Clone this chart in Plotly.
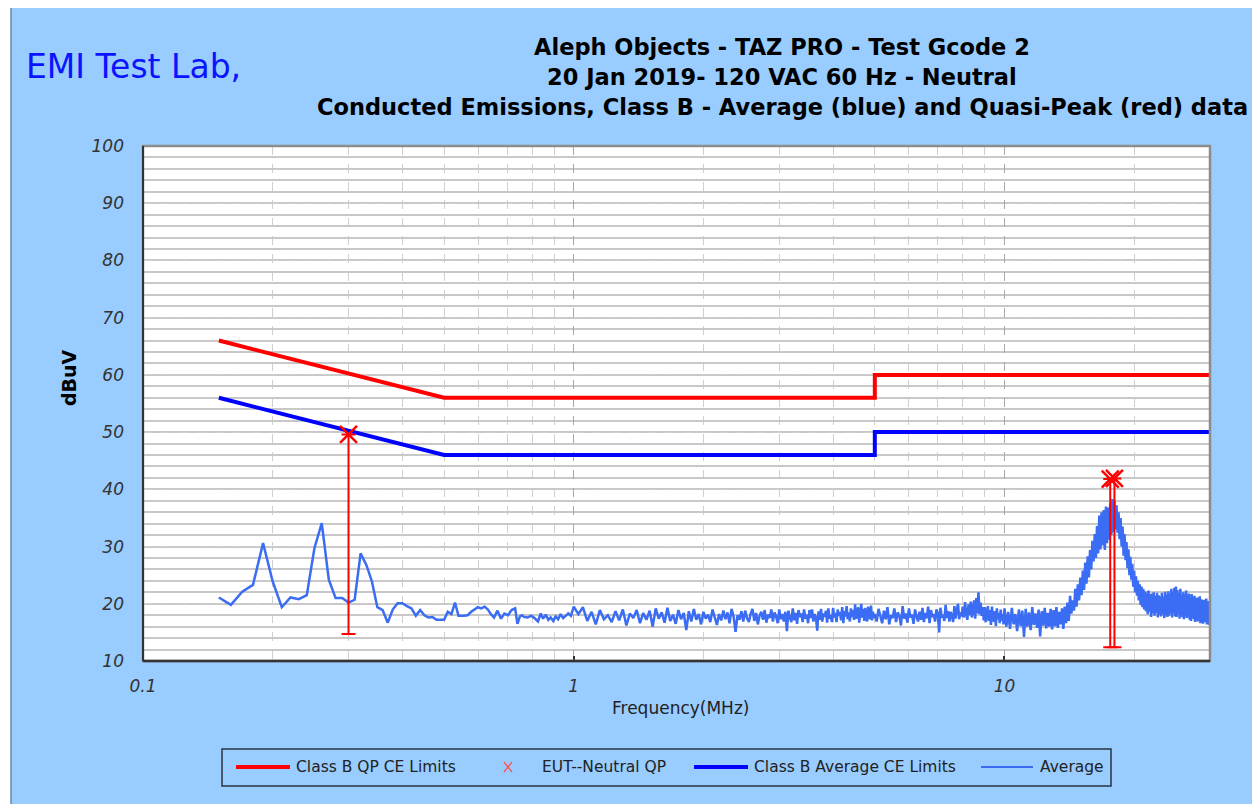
import plotly.graph_objects as go

# ---------------- data ----------------
qp_limit_f = [0.15, 0.5, 5.0, 5.0, 30.0]
qp_limit_v = [66.0, 56.0, 56.0, 60.0, 60.0]
avg_limit_f = [0.15, 0.5, 5.0, 5.0, 30.0]
avg_limit_v = [56.0, 46.0, 46.0, 50.0, 50.0]

qp_f = [0.30, 17.6, 18.0]
qp_v = [49.6, 41.8, 41.9]
qp_low = [14.7, 12.4, 12.4]

avg_f_a = [0.15, 0.16, 0.17, 0.18, 0.19, 0.20, 0.21, 0.22, 0.23, 0.24,
           0.25, 0.26, 0.27, 0.28, 0.29, 0.30, 0.31, 0.32, 0.33, 0.34,
           0.35, 0.36, 0.37, 0.38, 0.39, 0.40, 0.41, 0.42, 0.43, 0.44,
           0.45, 0.46, 0.47, 0.48, 0.49, 0.50, 0.51, 0.52, 0.53, 0.54]
avg_v_a = [21.1, 19.8, 22.1, 23.3, 30.6, 23.9, 19.4, 21.1, 20.8, 21.5,
           29.7, 34.1, 24.2, 21.0, 21.0, 20.2, 20.7, 28.8, 26.8, 23.9,
           19.4, 18.9, 16.7, 19.0, 20.1, 20.1, 19.6, 19.2, 17.9, 18.9,
           18.0, 17.6, 17.7, 17.2, 17.2, 17.2, 18.6, 18.2, 20.2, 17.9]

avg_f_b = [0.556, 0.567, 0.578, 0.588, 0.599, 0.610, 0.621, 0.632, 0.642, 0.653,
           0.665, 0.678, 0.690, 0.704, 0.717, 0.731, 0.740, 0.750, 0.758, 0.767,
           0.781, 0.796, 0.811, 0.826, 0.838, 0.849, 0.861, 0.873, 0.884, 0.896,
           0.908, 0.920, 0.932, 0.945, 0.958, 0.971, 0.985]
avg_v_b = [17.9, 18.0, 18.6, 19.0, 19.4, 19.2, 19.5, 19.0, 18.2, 17.6,
           18.8, 17.4, 18.3, 18.0, 18.9, 19.2, 16.5, 17.8, 18.0, 17.7,
           17.6, 17.9, 17.5, 16.9, 18.3, 17.4, 18.1, 17.2, 17.6, 17.0,
           17.8, 17.3, 18.2, 17.5, 17.9, 18.3, 17.9]

avg_f_c = [1.000, 1.025, 1.050, 1.075, 1.100, 1.125, 1.150, 1.175, 1.200, 1.225,
           1.250, 1.275, 1.300, 1.325, 1.350, 1.375, 1.400, 1.425, 1.450, 1.475,
           1.500, 1.525, 1.550, 1.575, 1.600, 1.625, 1.650, 1.675, 1.700, 1.725,
           1.750, 1.775, 1.800, 1.825, 1.850, 1.875, 1.900, 1.925, 1.950, 1.975]
avg_v_c = [19.5, 18.2, 19.4, 17.0, 18.6, 16.4, 18.9, 17.3, 18.0, 16.8,
           18.7, 17.1, 19.0, 16.2, 18.3, 17.5, 18.9, 16.6, 18.4, 17.2,
           18.8, 16.0, 19.2, 17.4, 18.5, 16.7, 19.3, 17.0, 18.1, 16.5,
           18.9, 17.3, 18.4, 15.4, 18.7, 16.9, 19.1, 17.2, 18.2, 16.4]

avg_f_d = [2.000, 2.025, 2.050, 2.075, 2.100, 2.125, 2.150, 2.175, 2.200, 2.225,
           2.250, 2.275, 2.300, 2.325, 2.350, 2.375, 2.400, 2.425, 2.450, 2.475,
           2.500, 2.525, 2.550, 2.575, 2.600, 2.625, 2.650, 2.675, 2.700, 2.725,
           2.750, 2.775, 2.800, 2.825, 2.850, 2.875, 2.900, 2.925, 2.950, 2.975,
           3.000, 3.025, 3.050, 3.075, 3.100, 3.125, 3.150, 3.175, 3.200, 3.225,
           3.250, 3.275, 3.300, 3.325, 3.350, 3.375, 3.400, 3.425, 3.450, 3.475,
           3.500, 3.525, 3.550, 3.575, 3.600, 3.625, 3.650, 3.675, 3.700, 3.725,
           3.750, 3.775, 3.800, 3.825, 3.850, 3.875, 3.900, 3.925, 3.950, 3.975,
           4.000, 4.025, 4.050, 4.075, 4.100, 4.125, 4.150, 4.175, 4.200, 4.225,
           4.250, 4.275, 4.300, 4.325, 4.350, 4.375, 4.400, 4.425, 4.450, 4.475,
           4.500, 4.525, 4.550, 4.575, 4.600, 4.625, 4.650, 4.675, 4.700, 4.725,
           4.750, 4.775, 4.800, 4.825, 4.850, 4.875, 4.900, 4.925, 4.950, 4.975]
avg_v_d = [18.6, 17.4, 18.1, 16.8, 19.0, 17.6, 16.3, 18.2, 17.1, 18.8,
           17.3, 18.5, 16.6, 19.1, 17.8, 15.1, 18.0, 17.2, 18.7, 16.9,
           18.8, 17.5, 16.8, 18.3, 19.1, 17.0, 18.4, 16.4, 17.9, 18.6,
           17.2, 18.9, 16.7, 18.1, 17.5, 19.0, 16.9, 18.5, 17.8, 16.6,
           19.0, 17.3, 18.2, 16.9, 18.6, 15.2, 18.8, 17.6, 16.8, 19.2,
           17.1, 18.4, 16.5, 18.9, 17.7, 18.3, 16.8, 19.0, 17.4, 18.1,
           16.6, 18.9, 17.5, 19.0, 16.9, 18.2, 17.6, 15.3, 18.7, 17.2,
           19.1, 16.9, 18.3, 17.7, 18.8, 16.7, 19.2, 17.4, 18.0, 16.8,
           19.3, 17.6, 18.4, 16.8, 19.0, 17.9, 18.6, 17.1, 19.4, 16.6,
           18.7, 17.8, 19.6, 17.3, 18.5, 16.9, 19.2, 17.7, 18.9, 17.2,
           19.9, 17.4, 18.6, 19.4, 16.7, 18.8, 20.0, 17.6, 19.1, 17.0,
           19.3, 17.8, 16.9, 19.5, 18.2, 17.3, 19.7, 17.1, 18.6, 17.5]

avg_f_e = [5.00, 5.05, 5.10, 5.15, 5.20, 5.25, 5.30, 5.35, 5.40, 5.45,
           5.50, 5.55, 5.60, 5.65, 5.70, 5.75, 5.80, 5.85, 5.90, 5.95,
           6.00, 6.05, 6.10, 6.15, 6.20, 6.25, 6.30, 6.35, 6.40, 6.45,
           6.50, 6.55, 6.60, 6.65, 6.70, 6.75, 6.80, 6.85, 6.90, 6.95,
           7.00, 7.05, 7.10, 7.15, 7.20, 7.25, 7.30, 7.35, 7.40, 7.45,
           7.50, 7.55, 7.60, 7.65, 7.70, 7.75, 7.80, 7.85, 7.90, 7.95,
           8.00, 8.05, 8.10, 8.15, 8.20, 8.25, 8.30, 8.35, 8.40, 8.45,
           8.50, 8.55, 8.60, 8.65, 8.70, 8.75, 8.80, 8.85, 8.90, 8.95,
           9.00, 9.05, 9.10, 9.15, 9.20, 9.25, 9.30, 9.35, 9.40, 9.45,
           9.50, 9.55, 9.60, 9.65, 9.70, 9.75, 9.80, 9.85, 9.90, 9.95]
avg_v_e = [18.2, 16.9, 19.1, 17.6, 16.6, 18.8, 17.3, 19.4, 16.4, 18.0,
           17.5, 19.2, 16.8, 18.5, 17.9, 16.2, 19.6, 17.4, 18.3, 16.7,
           19.2, 17.6, 18.1, 16.5, 19.0, 17.8, 16.9, 18.6, 17.2, 19.3,
           16.8, 18.4, 17.5, 19.5, 16.6, 18.9, 17.7, 18.2, 16.9, 19.0,
           18.4, 15.0, 19.3, 17.6, 18.1, 17.0, 19.8, 17.5, 18.7, 16.9,
           18.6, 17.9, 16.8, 19.6, 17.4, 18.9, 20.0, 17.3, 18.5, 17.8,
           19.5, 17.6, 20.3, 18.2, 17.2, 19.9, 18.0, 20.4, 17.6, 19.2,
           20.6, 17.4, 21.0, 18.3, 22.0, 18.2, 20.2, 17.9, 19.4, 17.1,
           19.4, 16.8, 18.5, 19.6, 17.0, 18.9, 16.3, 19.5, 17.4, 16.9,
           18.7, 16.1, 19.2, 17.3, 18.4, 16.6, 19.0, 17.0, 18.2, 16.4]

avg_f_f = [10.0, 10.1, 10.2, 10.3, 10.4, 10.5, 10.6, 10.7, 10.8, 10.9,
           11.0, 11.1, 11.2, 11.3, 11.4, 11.5, 11.6, 11.7, 11.8, 11.9,
           12.0, 12.1, 12.2, 12.3, 12.4, 12.5, 12.6, 12.7, 12.8, 12.9,
           13.0, 13.1, 13.2, 13.3, 13.4, 13.5, 13.6, 13.7, 13.8, 13.9,
           14.0, 14.1, 14.2, 14.3, 14.4, 14.5, 14.6, 14.7, 14.8, 14.9,
           15.0, 15.1, 15.2, 15.3, 15.4, 15.5, 15.6, 15.7, 15.8, 15.9,
           16.0, 16.1, 16.2, 16.3, 16.4, 16.5, 16.6, 16.7, 16.8, 16.9,
           17.0, 17.1, 17.2, 17.3, 17.4, 17.5, 17.6, 17.7, 17.8, 17.9,
           18.0, 18.1, 18.2, 18.3, 18.4, 18.5, 18.6, 18.7, 18.8, 18.9,
           19.0, 19.1, 19.2, 19.3, 19.4, 19.5, 19.6, 19.7, 19.8, 19.9,
           20.0, 20.1, 20.2, 20.3, 20.4, 20.5, 20.6, 20.7, 20.8, 20.9,
           21.0, 21.1, 21.2, 21.3, 21.4, 21.5, 21.6, 21.7, 21.8, 21.9,
           22.0, 22.1, 22.2, 22.3, 22.4, 22.5, 22.6, 22.7, 22.8, 22.9,
           23.0, 23.1, 23.2, 23.3, 23.4, 23.5, 23.6, 23.7, 23.8, 23.9,
           24.0, 24.1, 24.2, 24.3, 24.4, 24.5, 24.6, 24.7, 24.8, 24.9,
           25.0, 25.1, 25.2, 25.3, 25.4, 25.5, 25.6, 25.7, 25.8, 25.9,
           26.0, 26.1, 26.2, 26.3, 26.4, 26.5, 26.6, 26.7, 26.8, 26.9,
           27.0, 27.1, 27.2, 27.3, 27.4, 27.5, 27.6, 27.7, 27.8, 27.9,
           28.0, 28.1, 28.2, 28.3, 28.4, 28.5, 28.6, 28.7, 28.8, 28.9,
           29.0, 29.1, 29.2, 29.3, 29.4, 29.5, 29.6, 29.7, 29.8, 29.9,
           30.0]
avg_v_f = [19.2, 16.0, 18.6, 15.6, 19.3, 16.4, 18.2, 15.2, 19.0, 16.1,
           18.8, 14.2, 19.1, 16.0, 18.5, 15.4, 19.4, 16.3, 18.3, 15.8,
           19.0, 14.3, 18.7, 16.2, 19.3, 15.7, 18.4, 16.0, 19.1, 15.5,
           18.9, 16.1, 19.4, 15.8, 18.6, 16.4, 19.2, 15.6, 19.5, 16.6,
           20.2, 17.0, 21.4, 18.3, 20.6, 18.8, 22.6, 19.5, 23.4, 20.6,
           24.6, 21.5, 25.8, 22.4, 27.2, 23.5, 28.3, 24.6, 29.4, 26.0,
           31.0, 27.4, 32.2, 28.0, 33.6, 28.8, 35.4, 29.5, 36.0, 30.2,
           36.4, 29.4, 37.0, 30.6, 36.8, 31.2, 37.5, 32.0, 38.3, 32.5,
           38.0, 33.0, 37.2, 32.4, 36.0, 31.3, 35.0, 30.0, 33.5, 28.4,
           32.2, 27.6, 30.8, 26.2, 29.5, 25.0, 28.2, 24.2, 27.0, 23.0,
           25.8, 22.0, 24.8, 21.4, 24.0, 20.6, 23.4, 19.8, 23.0, 19.4,
           22.6, 19.0, 22.2, 18.7, 21.9, 18.2, 22.3, 18.6, 21.7, 17.7,
           21.8, 18.3, 22.0, 17.9, 21.4, 18.4, 21.9, 17.6, 21.5, 18.1,
           21.3, 17.8, 21.9, 18.2, 21.2, 17.5, 22.1, 18.0, 21.6, 17.7,
           22.2, 17.9, 21.8, 18.3, 22.6, 17.6, 22.1, 18.4, 22.8, 17.8,
           23.0, 17.7, 22.4, 18.2, 21.9, 17.4, 22.6, 18.0, 21.5, 17.6,
           22.0, 17.3, 21.6, 18.1, 22.3, 17.5, 21.4, 17.8, 21.8, 17.2,
           21.2, 17.0, 21.7, 17.6, 20.9, 17.3, 21.4, 16.8, 21.0, 17.4,
           21.1, 16.9, 20.6, 17.5, 21.3, 16.6, 20.8, 17.2, 20.4, 16.5,
           20.7, 16.8, 20.3, 17.1, 20.9, 16.4, 20.2, 16.9, 20.5, 16.3,
           20.0]

x_tick_vals = [0.1, 1, 10]
x_tick_text = ["0.1", "1", "10"]
y_tick_vals = [10, 20, 30, 40, 50, 60, 70, 80, 90, 100]

title_lines = ["Aleph Objects - TAZ PRO - Test Gcode 2",
               "20 Jan 2019- 120 VAC 60 Hz - Neutral",
               "Conducted Emissions, Class B - Average (blue) and Quasi-Peak (red) data"]
legend_names = ["Class B QP CE Limits", "EUT--Neutral QP",
                "Class B Average CE Limits", "Average"]

avg_f = avg_f_a + avg_f_b + avg_f_c + avg_f_d + avg_f_e + avg_f_f
avg_v = avg_v_a + avg_v_b + avg_v_c + avg_v_d + avg_v_e + avg_v_f
qp_minus = [v - lo for v, lo in zip(qp_v, qp_low)]

# ---------------- figure geometry (page has an 8px body margin) ----------------
OFF = 8
W, H = 1260 - OFF, 804 - OFF
PL, PT, PR, PB = 143, 146, 1210, 661     # plot area in page pixels
PW, PH = PR - PL, PB - PT
L, T = PL - OFF, PT - OFF
R, B = W - L - PW, H - T - PH

def px(x):
    return (x - PL) / PW

def py(y):
    return (PB - y) / PH

FONT = "DejaVu Sans, sans-serif"
RED = "#FF0000"
BLUE = "#0000FF"
AVG = "#3A6CF4"

fig = go.Figure()
fig.add_trace(go.Scatter(x=avg_f, y=avg_v, mode="lines", name=legend_names[3],
                         line=dict(color=AVG, width=2.5)))
fig.add_trace(go.Scatter(x=qp_limit_f, y=qp_limit_v, mode="lines", name=legend_names[0],
                         line=dict(color=RED, width=4)))
fig.add_trace(go.Scatter(x=avg_limit_f, y=avg_limit_v, mode="lines", name=legend_names[2],
                         line=dict(color=BLUE, width=4)))
fig.add_trace(go.Scatter(x=qp_f, y=qp_v, mode="markers", name=legend_names[1],
                         marker=dict(symbol="x-thin", size=17, color=RED,
                                     line=dict(color=RED, width=2.5)),
                         error_y=dict(type="data", symmetric=False,
                                      array=[0] * len(qp_v), arrayminus=qp_minus,
                                      color=RED, thickness=2, width=7)))

annotations = []
for i, t in enumerate(title_lines):
    annotations.append(dict(x=px(782), y=py(47 + 30 * i), xref="paper", yref="paper",
                            text="<b>" + t + "</b>", showarrow=False,
                            xanchor="center", yanchor="middle",
                            font=dict(family=FONT, size=22.5, color="#000000")))
annotations.append(dict(x=px(24), y=py(66), xref="paper", yref="paper",
                        text="EMI Test Lab,", showarrow=False,
                        xanchor="left", yanchor="middle",
                        font=dict(family=FONT, size=33, color="#0A14FF")))
annotations.append(dict(x=px(69), y=py(378), xref="paper", yref="paper",
                        text="<b>dBuV</b>", showarrow=False, textangle=-90,
                        xanchor="center", yanchor="middle",
                        font=dict(family=FONT, size=19, color="#000000")))
annotations.append(dict(x=px(680), y=py(708), xref="paper", yref="paper",
                        text="Frequency(MHz)", showarrow=False,
                        xanchor="center", yanchor="middle",
                        font=dict(family=FONT, size=17, color="#222222")))

# custom legend (box, samples, texts) laid out like the reference
LY = 767
leg_text_x = [294, 540, 752, 1038]
for name, tx in zip(legend_names, leg_text_x):
    annotations.append(dict(x=px(tx), y=py(LY), xref="paper", yref="paper",
                            text=name, showarrow=False, xanchor="left", yanchor="middle",
                            font=dict(family=FONT, size=15.5, color="#222222")))

shapes = [
    # white margins outside the blue panel
    dict(type="rect", xref="paper", yref="paper", x0=px(-20), x1=px(1280),
         y0=py(7), y1=py(-20), fillcolor="white", line=dict(width=0), layer="above"),
    dict(type="rect", xref="paper", yref="paper", x0=px(-20), x1=px(11),
         y0=py(830), y1=py(-20), fillcolor="white", line=dict(width=0), layer="above"),
    dict(type="rect", xref="paper", yref="paper", x0=px(1257), x1=px(1280),
         y0=py(830), y1=py(-20), fillcolor="white", line=dict(width=0), layer="above"),
    # panel border lines
    dict(type="line", xref="paper", yref="paper", x0=px(11), x1=px(1257),
         y0=py(7), y1=py(7), line=dict(color="#111111", width=2), layer="above"),
    dict(type="line", xref="paper", yref="paper", x0=px(11), x1=px(11),
         y0=py(7), y1=py(830), line=dict(color="#6A86A8", width=1.5), layer="above"),
    dict(type="line", xref="paper", yref="paper", x0=px(1257), x1=px(1257),
         y0=py(7), y1=py(830), line=dict(color="#5A6A80", width=1.5), layer="above"),
    # plot area frame
    dict(type="rect", xref="paper", yref="paper", x0=0, x1=1, y0=0, y1=1,
         line=dict(color="#8C8C8C", width=2.5), layer="above"),
    dict(type="line", xref="paper", yref="paper", x0=0, x1=0, y0=0, y1=1,
         line=dict(color="#333333", width=2), layer="above"),
    dict(type="line", xref="paper", yref="paper", x0=0, x1=1, y0=0, y1=0,
         line=dict(color="#333333", width=2.5), layer="above"),
    # legend box
    dict(type="rect", xref="paper", yref="paper", x0=px(222), x1=px(1111),
         y0=py(786), y1=py(749), line=dict(color="#2A3440", width=1.5), layer="above"),
    # legend samples
    dict(type="line", xref="paper", yref="paper", x0=px(236), x1=px(290),
         y0=py(LY), y1=py(LY), line=dict(color=RED, width=4), layer="above"),
    dict(type="line", xref="paper", yref="paper", x0=px(504), x1=px(512),
         y0=py(LY - 5), y1=py(LY + 5), line=dict(color="#FF5050", width=1.3), layer="above"),
    dict(type="line", xref="paper", yref="paper", x0=px(504), x1=px(512),
         y0=py(LY + 5), y1=py(LY - 5), line=dict(color="#FF5050", width=1.3), layer="above"),
    dict(type="line", xref="paper", yref="paper", x0=px(694), x1=px(748),
         y0=py(LY), y1=py(LY), line=dict(color=BLUE, width=4), layer="above"),
    dict(type="line", xref="paper", yref="paper", x0=px(981), x1=px(1033),
         y0=py(LY), y1=py(LY), line=dict(color=AVG, width=2), layer="above"),
]

fig.update_layout(
    width=W, height=H,
    margin=dict(l=L, r=R, t=T, b=B, pad=0),
    paper_bgcolor="#99CCFF", plot_bgcolor="#FFFFFF",
    font=dict(family=FONT, color="#222222"),
    showlegend=False,
    annotations=annotations,
    shapes=shapes,
)

fig.update_xaxes(type="log", range=[-1, 1.4771], showline=False, zeroline=False,
                 tickmode="array", tickvals=x_tick_vals, ticktext=x_tick_text,
                 ticks="inside", ticklen=5, tickwidth=1.5, tickcolor="#333333",
                 tickfont=dict(family=FONT, size=17, color="#333333", style="italic"),
                 ticklabelstandoff=13,
                 showgrid=True, gridcolor="#A8A8A8", griddash="dash", gridwidth=1,
                 minor=dict(dtick="D1", showgrid=True, gridcolor="#CFCFCF",
                            griddash="dash", gridwidth=1, ticks=""))
fig.update_yaxes(range=[10, 100], showline=False, zeroline=False,
                 tickmode="array", tickvals=y_tick_vals, ticks="",
                 tickfont=dict(family=FONT, size=17, color="#333333", style="italic"),
                 ticklabelstandoff=18,
                 showgrid=True, gridcolor="#CFCFCF", griddash="dash", gridwidth=1,
                 minor=dict(dtick=2, showgrid=True, gridcolor="#C8C8C8", gridwidth=2,
                            griddash="solid", ticks=""))

fig.write_html("out.html")
